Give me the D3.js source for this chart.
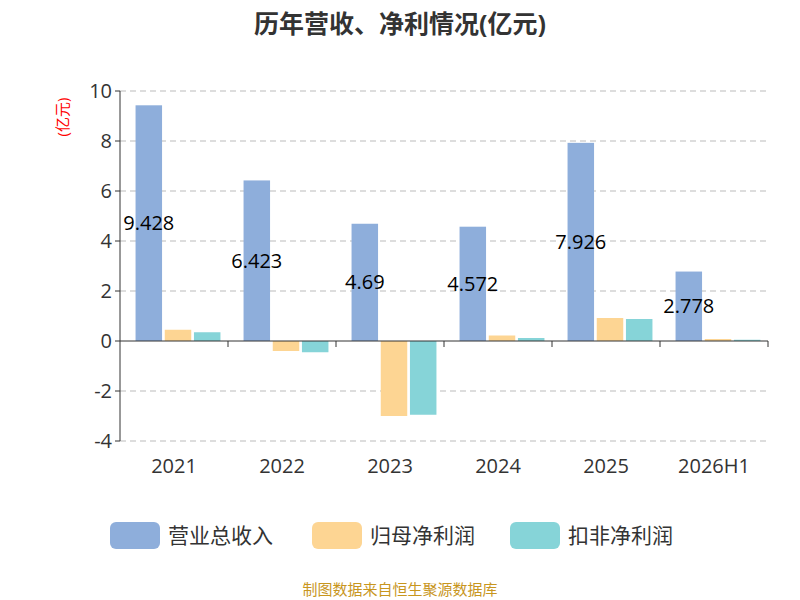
<!DOCTYPE html><html><head><meta charset="utf-8"><script src="https://cdn.jsdelivr.net/npm/d3@7"></script>
<style>body{margin:0;font-family:"Open Sans","Noto Sans CJK SC",sans-serif}</style></head><body><svg id="c" width="800" height="600"></svg>
<script>
const categories=["2021","2022","2023","2024","2025","2026H1"];
const revenue=[9.428,6.423,4.69,4.572,7.926,2.778];
const netProfit=[0.45,-0.4,-3.0,0.22,0.92,0.08];
const deducted=[0.35,-0.45,-2.95,0.12,0.88,0.05];
const seriesNames=["营业总收入","归母净利润","扣非净利润"];
const colors=["#8eaedb","#fdd593","#86d4d8"];
const yTicks=[-4,-2,0,2,4,6,8,10];
const svg=d3.select("#c");
const L=120,R=768,T=91,B=441;
const x=d3.scaleBand().domain(categories).range([L,R]);
const y=d3.scaleLinear().domain([-4,10]).range([B,T]);
svg.append("text").attr("x",400).attr("y",33).attr("text-anchor","middle").attr("font-size",25).attr("font-weight","bold").attr("fill","#333").text("历年营收、净利情况(亿元)");
svg.append("text").attr("transform","translate(68,117) rotate(-90)").attr("text-anchor","middle").attr("font-size",15).attr("fill","red").text("(亿元)");
yTicks.forEach(t=>{
 if(t!==0) svg.append("line").attr("x1",L).attr("x2",R).attr("y1",y(t)).attr("y2",y(t)).attr("stroke","#bbb").attr("stroke-dasharray","6,4");
 svg.append("text").attr("x",L-8).attr("y",y(t)+7).attr("text-anchor","end").attr("font-size",20).attr("fill","#333").text(t);
 svg.append("line").attr("x1",L-5).attr("x2",L).attr("y1",y(t)).attr("y2",y(t)).attr("stroke","#333");
});
svg.append("line").attr("x1",L).attr("x2",L).attr("y1",T).attr("y2",B).attr("stroke","#333");
const series=[revenue,netProfit,deducted];
const bw=26.5,gap=2.7,off=(x.bandwidth()-3*bw-2*gap)/2+4;
series.forEach((s,i)=>{
 svg.selectAll(null).data(s).enter().append("rect")
 .attr("x",(d,j)=>x(categories[j])+off+i*(bw+gap)).attr("width",bw)
 .attr("y",d=>y(Math.max(0,d))).attr("height",d=>Math.abs(y(d)-y(0))).attr("fill",colors[i]);
});
svg.append("line").attr("x1",L).attr("x2",R).attr("y1",y(0)).attr("y2",y(0)).attr("stroke","#333");
categories.forEach((c,j)=>{
 svg.append("line").attr("x1",x(c)+x.bandwidth()).attr("x2",x(c)+x.bandwidth()).attr("y1",y(0)).attr("y2",y(0)+6).attr("stroke","#333");
 svg.append("text").attr("x",x(c)+x.bandwidth()/2).attr("y",473).attr("text-anchor","middle").attr("font-size",20).attr("fill","#333").text(c);
 svg.append("text").attr("x",x(c)+off+bw/2).attr("y",y(revenue[j]/2)+7).attr("text-anchor","middle").attr("font-size",20).attr("fill","#000").text(revenue[j]);
});
const lx=[110,312,510];
seriesNames.forEach((n,i)=>{
 svg.append("rect").attr("x",lx[i]).attr("y",522).attr("width",50).attr("height",27).attr("rx",6).attr("fill",colors[i]);
 svg.append("text").attr("x",lx[i]+58).attr("y",543).attr("font-size",21).attr("fill","#333").text(n);
});
svg.append("text").attr("x",400).attr("y",595).attr("text-anchor","middle").attr("font-size",15).attr("fill","#c8961e").text("制图数据来自恒生聚源数据库");
</script></body></html>
